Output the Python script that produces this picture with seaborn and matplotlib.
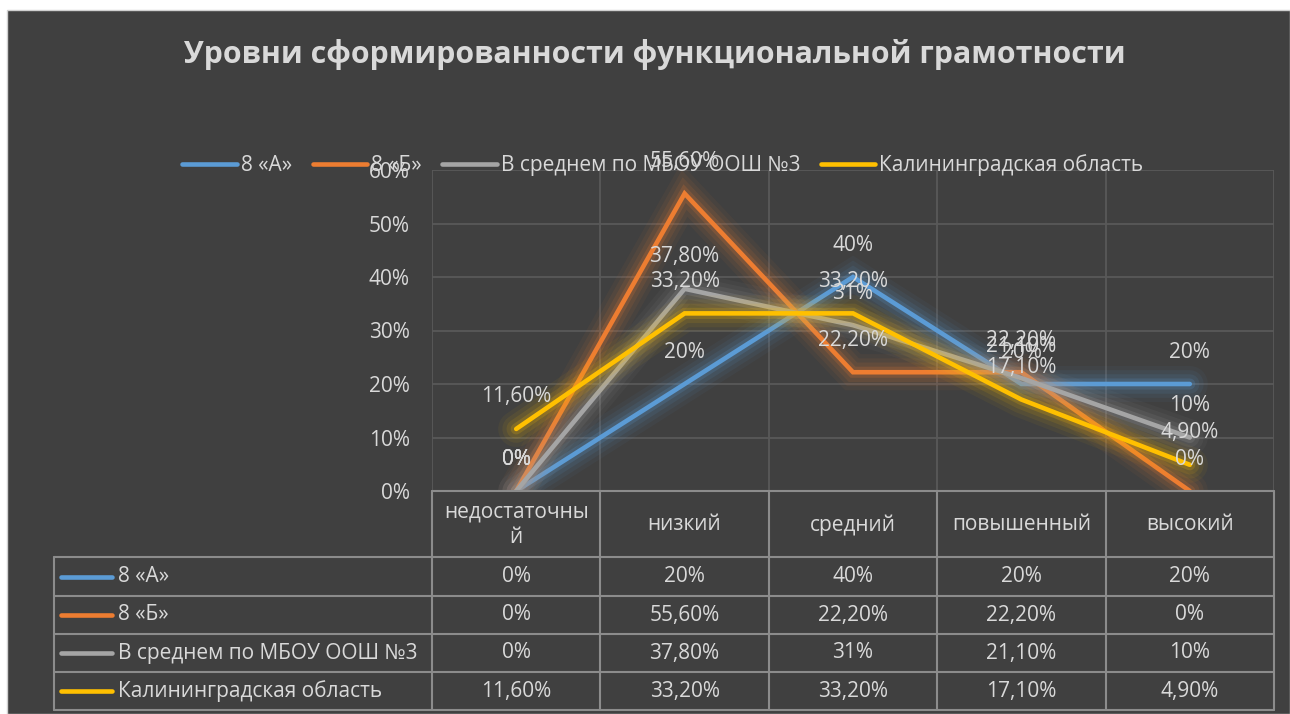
import numpy as np
import pandas as pd
import seaborn as sns
import matplotlib
matplotlib.use("Agg")
import matplotlib.pyplot as plt
import matplotlib.patheffects as pe
from matplotlib.transforms import blended_transform_factory
from matplotlib.patches import Rectangle
from matplotlib.lines import Line2D

# ---------------- data ----------------
categories = ["недостаточны\nй", "низкий", "средний", "повышенный", "высокий"]
series_names = ["8 «А»", "8 «Б»", "В среднем по МБОУ ООШ №3", "Калининградская область"]
values_8a = [0, 20, 40, 20, 20]
values_8b = [0, 55.6, 22.2, 22.2, 0]
values_avg = [0, 37.8, 31, 21.1, 10]
values_region = [11.6, 33.2, 33.2, 17.1, 4.9]
y_ticks = [0, 10, 20, 30, 40, 50, 60]
title = "Уровни сформированности функциональной грамотности"

all_values = [values_8a, values_8b, values_avg, values_region]
colors = ["#5B9BD5", "#ED7D31", "#A5A5A5", "#FFC000"]

def fmt(v):
    if float(v).is_integer():
        return f"{int(v)}%"
    return f"{v:.2f}".replace(".", ",") + "%"

rows = []
for name, vals in zip(series_names, all_values):
    for i, v in enumerate(vals):
        rows.append({"series": name, "idx": i, "value": v})
df = pd.DataFrame(rows)

# ---------------- style ----------------
sns.set_theme(style="dark")
plt.rcParams["font.family"] = ["Open Sans", "DejaVu Sans"]
BG = "#404040"
TXT = "#D9D9D9"
GRID = "#595959"
TBL = "#8C8C8C"
FS = 15

W, H = 1290, 714
fig = plt.figure(figsize=(W / 100, H / 100), dpi=100)
fig.patch.set_facecolor("white")
fig.add_artist(Rectangle((7 / W, 0), 1 - 7 / W, 1 - 10 / H, transform=fig.transFigure,
                         facecolor=BG, edgecolor="#D0D0D0", lw=1, zorder=-10))

def fx(px):
    return px / W

def fy(py):
    return 1 - py / H

ax_left, ax_right, ax_top, ax_bot = 432, 1274, 170, 491
ax = fig.add_axes([fx(ax_left), fy(ax_bot), fx(ax_right - ax_left), (ax_bot - ax_top) / H])
ax.set_facecolor(BG)
ax.patch.set_alpha(0)

palette = dict(zip(series_names, colors))
sns.lineplot(data=df, x="idx", y="value", hue="series", hue_order=series_names,
             palette=palette, ax=ax, linewidth=3.3, legend=False, sort=False)

for line, c in zip(ax.get_lines(), colors):
    line.set_solid_capstyle("round")
    line.set_solid_joinstyle("miter")
    line.set_path_effects([
        pe.Stroke(linewidth=26, foreground=c, alpha=0.05),
        pe.Stroke(linewidth=20, foreground=c, alpha=0.07),
        pe.Stroke(linewidth=14, foreground=c, alpha=0.10),
        pe.Stroke(linewidth=8, foreground=c, alpha=0.18),
        pe.Normal(),
    ])

ax.set_xlim(-0.5, len(categories) - 0.5)
ax.set_ylim(0, 60)
ax.set_yticks(y_ticks)
ax.set_yticklabels([f"{t}%" for t in y_ticks], color=TXT, fontsize=FS)
ax.set_xticks([])
ax.set_xlabel("")
ax.set_ylabel("")
ax.tick_params(axis="y", length=0, pad=16)
for s in ax.spines.values():
    s.set_visible(False)
for t in y_ticks[1:]:
    ax.axhline(t, color=GRID, lw=1.3, zorder=0)
for b in np.arange(-0.5, len(categories), 1.0):
    ax.axvline(b, color=GRID, lw=1.3, zorder=0)

# data labels (above points)
for vals in all_values:
    for i, v in enumerate(vals):
        ax.annotate(fmt(v), (i, v), xytext=(0, 23), textcoords="offset points",
                    ha="center", va="center", color=TXT, fontsize=FS, zorder=10)

# ---------------- legend ----------------
handles = [Line2D([0], [0], color=c, lw=3.3, solid_capstyle="round") for c in colors]
leg = fig.legend(handles, series_names, loc="center", bbox_to_anchor=(fx(663), fy(165)),
                 ncol=4, frameon=False, fontsize=FS, handlelength=2.6,
                 handletextpad=0.2, columnspacing=1.0, labelcolor=TXT)

# ---------------- title ----------------
fig.text(fx(655), fy(55), title, ha="center", va="center", color=TXT,
         fontsize=21.8, fontweight="bold")

# ---------------- data table ----------------
tr = blended_transform_factory(ax.transData, fig.transFigure)
row_lines = [557, 596, 634, 672, 710]
x_bounds = np.arange(-0.5, len(categories), 1.0)
fig.add_artist(Line2D([x_bounds[0], x_bounds[-1]], [fy(491), fy(491)], transform=tr, color=TBL, lw=1.5))
for yl in row_lines:
    fig.add_artist(Line2D([fx(54), fx(ax_right)], [fy(yl), fy(yl)], transform=fig.transFigure,
                          color=TBL, lw=1.5))
for b in x_bounds:
    fig.add_artist(Line2D([b, b], [fy(491), fy(710)], transform=tr, color=TBL, lw=1.5))
fig.add_artist(Line2D([fx(54), fx(54)], [fy(557), fy(710)], transform=fig.transFigure, color=TBL, lw=1.5))

for i, cat in enumerate(categories):
    fig.text(i, fy(525), cat, transform=tr, ha="center", va="center", color=TXT,
             fontsize=FS, linespacing=1.25)

for r, (name, vals, c) in enumerate(zip(series_names, all_values, colors)):
    yc = (row_lines[r] + row_lines[r + 1]) / 2
    fig.add_artist(Line2D([fx(61), fx(112)], [fy(yc), fy(yc)], transform=fig.transFigure,
                          color=c, lw=3.3, solid_capstyle="round"))
    fig.text(fx(118), fy(yc), name, ha="left", va="center", color=TXT, fontsize=FS)
    for i, v in enumerate(vals):
        fig.text(i, fy(yc), fmt(v), transform=tr, ha="center", va="center", color=TXT, fontsize=FS)

fig.savefig("out.png", dpi=100, facecolor=fig.get_facecolor())
